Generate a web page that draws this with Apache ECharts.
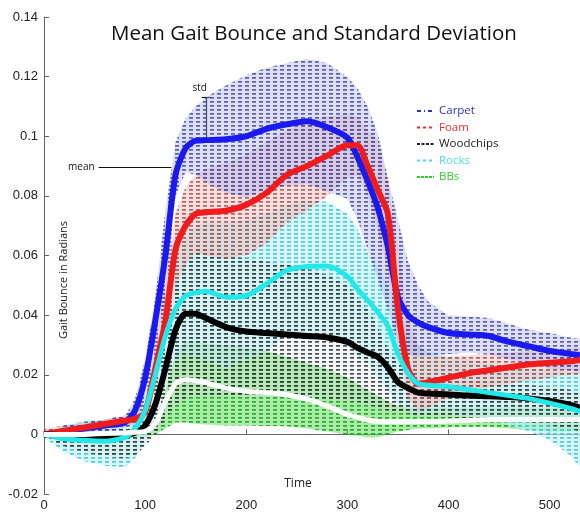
<!DOCTYPE html>
<html><head><meta charset="utf-8">
<script src="https://cdn.jsdelivr.net/npm/echarts@6/dist/echarts.min.js"></script>
<style>html,body{margin:0;padding:0;background:#fff}#c{width:580px;height:512px}</style>
</head><body><div id="c"></div>
<script>
const T = [0,20,40,60,80,90,100,110,120,130,140,150,160,180,200,220,240,260,280,300,310,320,330,340,350,360,370,380,400,420,440,460,480,500,520,530];

const carpetMean = [0,0.001,0.002,0.003,0.004,0.008,0.019,0.038,0.060,0.087,0.096,0.0985,0.0987,0.099,0.100,0.1025,0.104,0.105,0.103,0.0995,0.093,0.085,0.076,0.063,0.046,0.040,0.0375,0.036,0.034,0.0335,0.033,0.031,0.0295,0.028,0.027,0.0265];
const carpetHi = [0,0.003,0.004,0.005,0.006,0.012,0.025,0.046,0.075,0.098,0.106,0.110,0.113,0.117,0.1205,0.123,0.1245,0.126,0.1245,0.120,0.116,0.110,0.101,0.086,0.072,0.058,0.050,0.0445,0.040,0.0395,0.039,0.037,0.035,0.034,0.0325,0.032];
const carpetLo = [0,-0.001,0,0.001,0.002,0.004,0.013,0.030,0.045,0.080,0.088,0.087,0.0845,0.081,0.0795,0.082,0.0835,0.084,0.0815,0.079,0.072,0.062,0.052,0.042,0.030,0.027,0.026,0.0265,0.027,0.0275,0.027,0.025,0.024,0.022,0.0215,0.021];

const foamMean = [0,0.0012,0.0023,0.0035,0.0046,0.0052,0.0075,0.022,0.038,0.062,0.070,0.074,0.0745,0.075,0.077,0.081,0.087,0.090,0.0935,0.097,0.097,0.090,0.082,0.074,0.042,0.022,0.017,0.0175,0.019,0.0205,0.0215,0.0225,0.0235,0.024,0.0245,0.025];
const foamHi = [0.002,0.003,0.004,0.005,0.0065,0.008,0.012,0.030,0.050,0.074,0.083,0.087,0.089,0.091,0.094,0.098,0.102,0.105,0.1065,0.1075,0.1065,0.102,0.099,0.085,0.064,0.040,0.030,0.027,0.026,0.0265,0.027,0.0275,0.028,0.0285,0.029,0.029];
const foamLo = [-0.001,-0.0005,0.0005,0.002,0.003,0.003,0.004,0.014,0.030,0.050,0.057,0.061,0.060,0.059,0.060,0.064,0.071,0.075,0.080,0.086,0.087,0.080,0.068,0.055,0.030,0.012,0.008,0.009,0.012,0.014,0.016,0.017,0.018,0.019,0.020,0.020];

const woodMean = [0,-0.0003,-0.0007,-0.0008,-0.0003,0.0005,0.003,0.010,0.022,0.035,0.0405,0.0405,0.039,0.036,0.0345,0.034,0.0335,0.033,0.0325,0.031,0.029,0.0275,0.026,0.0225,0.0175,0.0155,0.014,0.0137,0.0134,0.013,0.0128,0.0125,0.012,0.0112,0.010,0.009];
const woodHi = [0.001,0.002,0.002,0.002,0.002,0.003,0.007,0.018,0.034,0.050,0.059,0.062,0.062,0.060,0.059,0.058,0.057,0.0555,0.0535,0.050,0.0457,0.042,0.036,0.029,0.024,0.021,0.020,0.019,0.018,0.0178,0.0175,0.017,0.0165,0.016,0.015,0.014];
const woodLo = [-0.001,-0.004,-0.006,-0.0075,-0.008,-0.007,-0.004,0.000,0.005,0.010,0.012,0.013,0.013,0.013,0.0125,0.0125,0.013,0.012,0.012,0.011,0.011,0.010,0.009,0.008,0.0075,0.007,0.006,0.006,0.0057,0.0055,0.0055,0.005,0.004,0.003,0.002,0.001];

const rocksMean = [0,-0.0015,-0.002,-0.0023,-0.001,0.002,0.008,0.020,0.033,0.042,0.0465,0.0475,0.048,0.046,0.0465,0.0505,0.055,0.0563,0.0565,0.053,0.0487,0.045,0.041,0.0363,0.027,0.0205,0.017,0.0165,0.016,0.015,0.014,0.013,0.012,0.0105,0.0088,0.0077];
const rocksHi = [0.001,0.003,0.0045,0.005,0.006,0.009,0.016,0.030,0.045,0.058,0.066,0.070,0.071,0.071,0.072,0.074,0.077,0.0785,0.078,0.074,0.069,0.061,0.056,0.050,0.042,0.034,0.030,0.028,0.026,0.025,0.024,0.023,0.022,0.0215,0.021,0.021];
const rocksLo = [-0.001,-0.006,-0.009,-0.0105,-0.011,-0.008,-0.003,0.006,0.016,0.024,0.027,0.026,0.025,0.022,0.025,0.028,0.033,0.034,0.034,0.030,0.026,0.024,0.019,0.015,0.010,0.008,0.007,0.007,0.007,0.006,0.005,0.003,0.001,-0.002,-0.007,-0.011];

const bbsMean = [0,0,0,0.0003,0.0005,0.0007,0.001,0.0035,0.011,0.017,0.0183,0.018,0.0173,0.0155,0.0145,0.014,0.0133,0.0118,0.0095,0.0067,0.0057,0.0048,0.0043,0.0042,0.0042,0.0042,0.0043,0.0043,0.0045,0.0047,0.005,0.005,0.005,0.005,0.005,0.005];
const bbsHi = [0.001,0.001,0.001,0.001,0.001,0.0015,0.002,0.005,0.015,0.027,0.031,0.031,0.0305,0.030,0.029,0.028,0.026,0.024,0.022,0.019,0.017,0.015,0.013,0.011,0.0095,0.009,0.009,0.009,0.009,0.009,0.009,0.009,0.009,0.009,0.009,0.009];
const bbsLo = [-0.001,-0.001,-0.001,-0.001,-0.001,-0.001,-0.001,0,0.002,0.004,0.004,0.0035,0.0033,0.003,0.003,0.0028,0.0027,0.002,0.001,0,-0.0005,-0.001,-0.001,0,0.001,0.0015,0.002,0.002,0.0023,0.0025,0.0025,0.002,0.0015,0.001,0.001,0.001];

const legendNames = ['Carpet','Foam','Woodchips','Rocks','BBs'];
const xTicks = [0,100,200,300,400,500];
const yTicks = [-0.02,0,0.02,0.04,0.06,0.08,0.1,0.12,0.14];

function pat(color, bg) {
  const c = document.createElement('canvas');
  c.width = 7; c.height = 4;
  const g = c.getContext('2d');
  g.fillStyle = bg; g.fillRect(0,0,7,4);
  g.fillStyle = color; g.fillRect(0,1,4,1.7);
  return {image: c, repeat: 'repeat'};
}

function band(name, hi, lo, fill, z) {
  return {
    type: 'custom', name: name + ' std', z: z, silent: true,
    data: [[T[0], lo[0]]],
    renderItem: function (params, api) {
      const pts = [];
      for (let i = 0; i < T.length; i++) pts.push(api.coord([T[i], hi[i]]));
      for (let i = T.length - 1; i >= 0; i--) pts.push(api.coord([T[i], lo[i]]));
      return {type: 'polygon', shape: {points: pts}, style: {fill: fill, stroke: null}};
    }
  };
}
function pairs(arr) { return T.map((t, i) => [t, arr[i]]); }
function meanLine(name, arr, color, w, z) {
  return {type: 'line', name: name + ' mean', data: pairs(arr), symbol: 'none', smooth: 0.25, z: z,
    lineStyle: {color: color, width: w}, silent: true};
}
function legendSeries(name, color, dash) {
  return {type: 'line', name: name, data: [], symbol: 'none', lineStyle: {color: color, width: 1.5, type: dash}, itemStyle: {color: color}};
}

const chart = echarts.init(document.getElementById('c'), null, {renderer: 'canvas'});
chart.setOption({
  animation: false,
  backgroundColor: '#fff',
  title: {text: 'Mean Gait Bounce and Standard Deviation', left: 106, top: 19,
    textStyle: {fontFamily: 'Open Sans', fontSize: 20.5, fontWeight: 'normal', color: '#111'}},
  legend: {
    orient: 'vertical', left: 411, top: 100, itemWidth: 17, itemHeight: 12, itemGap: 4.5,
    itemStyle: {opacity: 0},
    textStyle: {fontFamily: 'Open Sans', fontSize: 11.5},
    data: [
      {name: 'Carpet', textStyle: {color: '#3030c8'}, lineStyle: {type: [4, 3, 1, 3]}},
      {name: 'Foam', textStyle: {color: '#e83030'}, lineStyle: {type: [3, 3]}},
      {name: 'Woodchips', textStyle: {color: '#1a1a1a'}, lineStyle: {type: [3, 1.5]}},
      {name: 'Rocks', textStyle: {color: '#50dce0'}, lineStyle: {type: [3, 3]}},
      {name: 'BBs', textStyle: {color: '#30cc30'}, lineStyle: {type: [3, 1]}}
    ]
  },
  grid: {left: 44, top: 17, width: 536, height: 478, containLabel: false},
  xAxis: {type: 'value', min: 0, max: 530, interval: 100,
    axisLine: {lineStyle: {color: '#666'}}, axisTick: {inside: true, length: 5, lineStyle: {color: '#666'}},
    axisLabel: {color: '#222', fontFamily: 'Liberation Sans', fontSize: 13, margin: 5, showMaxLabel: false},
    splitLine: {show: false}},
  yAxis: {type: 'value', min: -0.02, max: 0.14, interval: 0.02,
    axisLine: {show: true, lineStyle: {color: '#666'}}, axisTick: {show: true, inside: true, length: 5, lineStyle: {color: '#666'}},
    axisLabel: {color: '#222', fontFamily: 'Liberation Sans', fontSize: 13, margin: 6,
      formatter: v => String(+v.toFixed(2))},
    splitLine: {show: false}},
  graphic: [
    {type: 'text', x: 64, y: 280, rotation: Math.PI / 2, style: {text: 'Gait Bounce in Radians', fill: '#222', font: '11px "Open Sans"', textAlign: 'center', textVerticalAlign: 'middle'}},
    {type: 'text', x: 298, y: 484, style: {text: 'Time', fill: '#222', font: '12px "Open Sans"', textAlign: 'center', textVerticalAlign: 'middle'}}
  ],
  series: [
    band('BBs', bbsHi, bbsLo, pat('rgba(30,170,30,0.95)', 'rgba(90,215,90,0.5)'), 1),
    band('Rocks', rocksHi, rocksLo, pat('rgba(60,200,212,0.9)', 'rgba(185,240,245,0.55)'), 2),
    band('Woodchips', woodHi, woodLo, pat('rgba(30,30,30,0.8)', 'rgba(210,225,225,0.25)'), 3),
    band('Foam', foamHi, foamLo, pat('rgba(170,65,65,0.8)', 'rgba(225,165,165,0.35)'), 4),
    band('Carpet', carpetHi, carpetLo, pat('rgba(60,60,160,0.8)', 'rgba(170,175,225,0.4)'), 5),
    meanLine('Carpet', carpetMean, '#1a1aee', 6, 10),
    meanLine('Foam', foamMean, '#ee1c1c', 6, 11),
    meanLine('Woodchips', woodMean, '#000', 6, 12),
    meanLine('Rocks', rocksMean, '#22e8e8', 5, 13),
    Object.assign(meanLine('BBs', bbsMean, '#ffffff', 5, 14), {
      markLine: {silent: true, symbol: 'none', animation: false,
        lineStyle: {color: '#111', width: 1.2, type: 'solid'},
        label: {show: true, color: '#111', fontFamily: 'Open Sans', fontSize: 10},
        data: [
          [{coord: [160, 0.0987], label: {show: false}}, {coord: [160, 0.113]}],
          [{coord: [156, 0.113], label: {show: true, formatter: 'std', position: 'insideEndTop', distance: 4}}, {coord: [165, 0.113]}],
          [{coord: [54, 0.0897], label: {show: true, formatter: 'mean', position: 'start', distance: 4}}, {coord: [126, 0.0897]}]
        ]}
    }),
    legendSeries('Carpet', '#3030c8', [4, 3, 1, 3]),
    legendSeries('Foam', '#e83030', [3, 3]),
    legendSeries('Woodchips', '#222', [3, 1.5]),
    legendSeries('Rocks', '#50dce0', [3, 3]),
    legendSeries('BBs', '#30cc30', [3, 1])
  ]
});
</script></body></html>
